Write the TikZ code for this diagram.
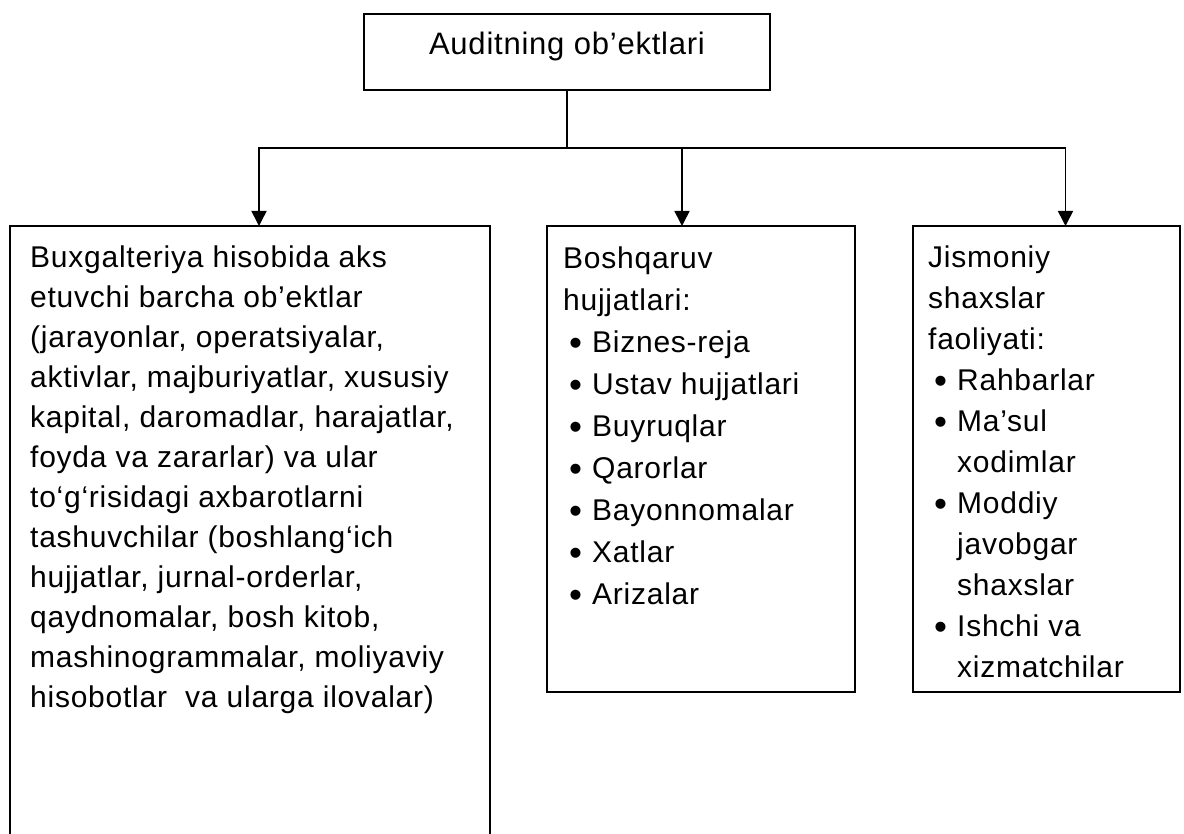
\documentclass[tikz,border=0pt]{standalone}
\usepackage{fontspec}
\setmainfont{Liberation Sans}[LetterSpace=2.5]
\usetikzlibrary{arrows.meta}

% bullet marker and hanging indent for the list items
\newcommand\listmark{\hspace*{6pt}\makebox[23pt][l]{\raisebox{-2.5pt}{\fontsize{37}{40}\selectfont •}}}
\newcommand\listcont{\hspace*{29pt}}

\begin{document}
\begin{tikzpicture}[x=1pt,y=-1pt,
  frame/.style={draw, line width=1.6pt, inner sep=0pt, outer sep=0pt, anchor=north west},
  body/.style={anchor=north west, inner sep=0pt, align=left},
  link/.style={line width=1.6pt},
  arrowlink/.style={link, -{Triangle[width=15pt,length=15pt]}}]
\useasboundingbox (0,0) rectangle (1184,834);
\clip (0,0) rectangle (1184,834);

% boxes
\node[frame, minimum width=406pt, minimum height=76pt] (top) at (364,14) {};
\node[frame, minimum width=480pt, minimum height=700pt] (boxA) at (10,226) {};
\node[frame, minimum width=308pt, minimum height=466pt] (boxB) at (547,226) {};
\node[frame, minimum width=267pt, minimum height=466pt] (boxC) at (913,226) {};

% texts
\node[anchor=base, inner sep=0pt, font=\fontsize{31}{38}\selectfont] (toptext) at (567,55) {Auditning ob’ektlari};

\node[body, font=\fontsize{30}{40}\selectfont] (textA) at (30,239) {\strut Buxgalteriya hisobida aks\\
etuvchi barcha ob’ektlar\\
(jarayonlar, operatsiyalar,\\
aktivlar, majburiyatlar, xususiy\\
kapital, daromadlar, harajatlar,\\
foyda va zararlar) va ular\\
to‘g‘risidagi axbarotlarni\\
tashuvchilar (boshlang‘ich\\
hujjatlar, jurnal-orderlar,\\
qaydnomalar, bosh kitob,\\
mashinogrammalar, moliyaviy\\
hisobotlar\ \ va ularga ilovalar)};

\node[body, font=\fontsize{30}{42}\selectfont] (textB) at (563,239) {\strut Boshqaruv\\
hujjatlari:\\
\listmark Biznes-reja\\
\listmark Ustav hujjatlari\\
\listmark Buyruqlar\\
\listmark Qarorlar\\
\listmark Bayonnomalar\\
\listmark Xatlar\\
\listmark Arizalar};

\node[body, font=\fontsize{30}{41}\selectfont] (textC) at (928,239) {\strut Jismoniy\\
shaxslar\\
faoliyati:\\
\listmark Rahbarlar\\
\listmark Ma’sul\\
\listcont xodimlar\\
\listmark Moddiy\\
\listcont javobgar\\
\listcont shaxslar\\
\listmark Ishchi va\\
\listcont xizmatchilar};

% connectors
\coordinate (split) at (top.south |- 0,148);
\draw[link] (top.south) -- (split);
\draw[arrowlink] (split) -| ([xshift=9pt]boxA.north);
\draw[arrowlink] (split) -| ([xshift=-19pt]boxB.north);
\draw[arrowlink] (split) -| ([xshift=19pt]boxC.north);
\end{tikzpicture}
\end{document}
